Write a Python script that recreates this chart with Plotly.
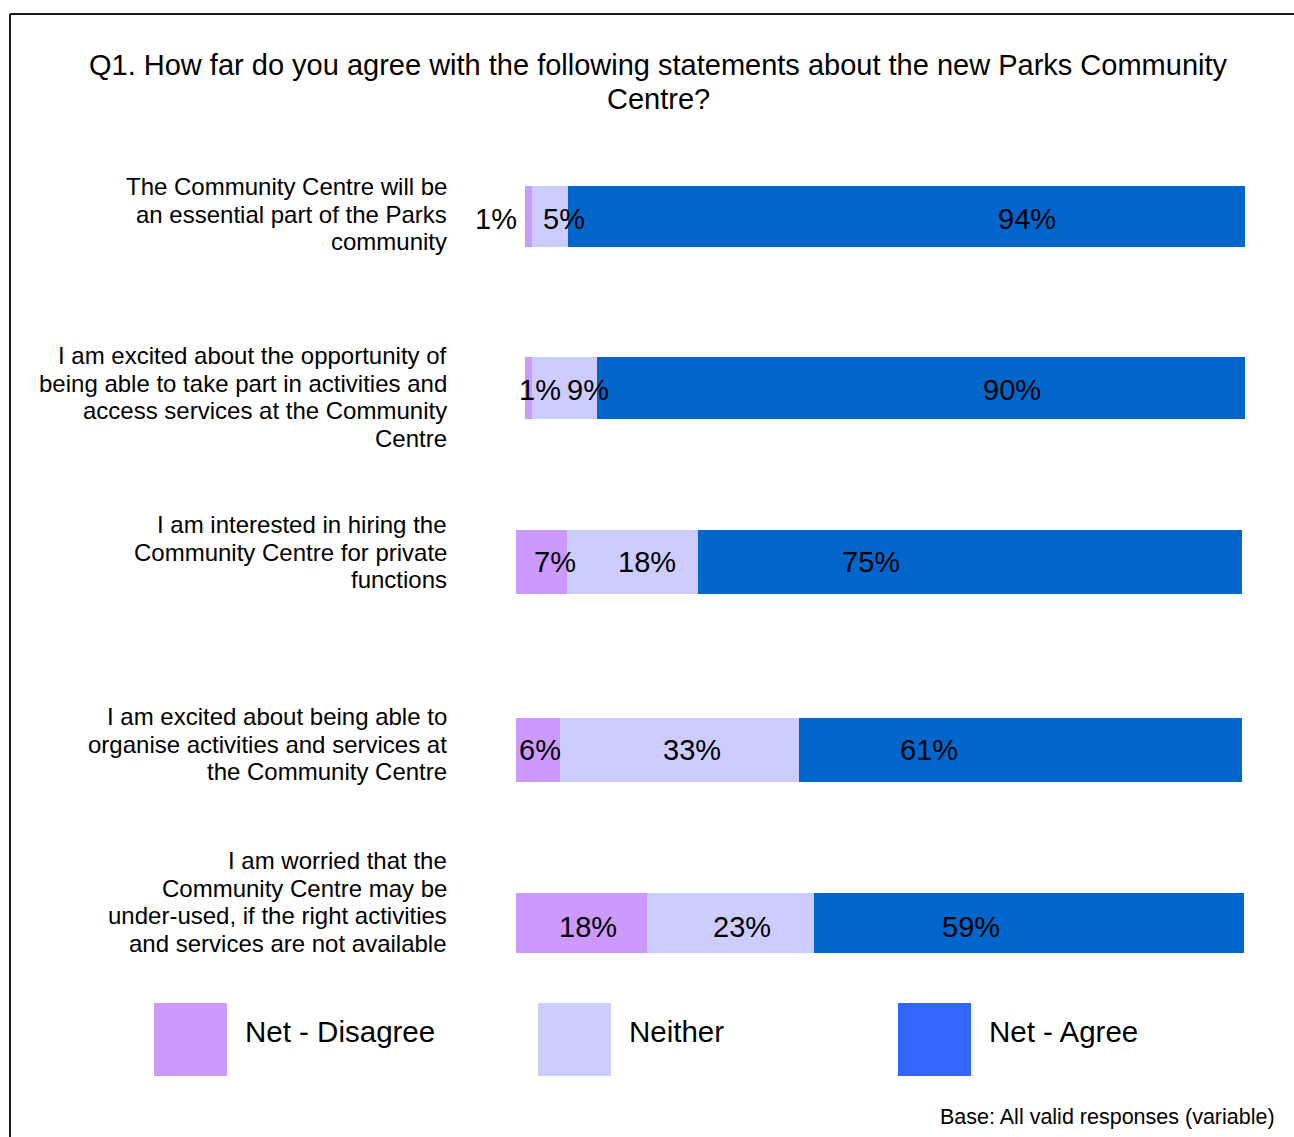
import plotly.graph_objects as go

# ---- data ----
statements = [
    ["The Community Centre will be", "an essential part of the Parks", "community"],
    ["I am excited about the opportunity of", "being able to take part in activities and",
     "access services at the Community", "Centre"],
    ["I am interested in hiring the", "Community Centre for private", "functions"],
    ["I am excited about being able to", "organise activities and services at",
     "the Community Centre"],
    ["I am worried that the", "Community Centre may be",
     "under-used, if the right activities", "and services are not available"],
]
series_names = ["Net - Disagree", "Neither", "Net - Agree"]
net_disagree = [1, 1, 7, 6, 18]
neither = [5, 9, 18, 33, 23]
net_agree = [94, 90, 75, 61, 59]

title_lines = ["Q1. How far do you agree with the following statements about the new Parks Community",
               "Centre?"]
base_note = "Base: All valid responses (variable)"

# ---- styling ----
W, H = 1294, 1137
FONT = "Liberation Sans, Arial, sans-serif"
bar_colors = ["#CC99FF", "#CCCCFF", "#0066CC"]
legend_colors = ["#CC99FF", "#CCCCFF", "#3366FF"]

# pixel box of each bar row: (left, right, top, bottom)
row_boxes = [
    (525, 1245, 186, 247),
    (525, 1245, 357, 419),
    (516, 1242, 530, 594),
    (516, 1242, 718, 782),
    (516, 1244, 893, 953),
]
# nudges for the value labels (px) per row / series
label_dx = [
    [-33, 14, 120],
    [11, 23, 91],
    [14, 15, -99],
    [2, 13, -92],
    [6, 11, -58],
]
label_dy = [3, 2, 0, 0, 4]
# offset of first statement line from bar centre (px, downward) and line pitch
first_line_dy = [-29.5, -32.5, -37.5, -33.5, -62.5]
line_pitch = 27.5
label_right_px = 449


def px_x(p):
    return p / W


def px_y(p):
    return 1 - p / H


series_values = [net_disagree, neither, net_agree]

fig = go.Figure()
annotations = []
layout_axes = {}

for r in range(5):
    n = r + 1
    xa = "x" if n == 1 else f"x{n}"
    ya = "y" if n == 1 else f"y{n}"
    left, right, top, bottom = row_boxes[r]
    layout_axes["xaxis" if n == 1 else f"xaxis{n}"] = dict(
        domain=[px_x(left), px_x(right)], range=[0, 100], anchor=ya,
        showgrid=False, zeroline=False, showticklabels=False, showline=False,
        fixedrange=True)
    layout_axes["yaxis" if n == 1 else f"yaxis{n}"] = dict(
        domain=[px_y(bottom), px_y(top)], range=[-0.5, 0.5], anchor=xa,
        showgrid=False, zeroline=False, showticklabels=False, showline=False,
        fixedrange=True)

    cum = 0
    for s in range(3):
        v = series_values[s][r]
        fig.add_trace(go.Bar(
            x=[v], y=[0], orientation="h", width=1,
            marker=dict(color=bar_colors[s], line=dict(width=0)),
            name=series_names[s], showlegend=False, hoverinfo="skip",
            xaxis=xa, yaxis=ya))
        annotations.append(dict(
            x=cum + v / 2, y=0, xref=xa, yref=ya, text=f"{v}%",
            showarrow=False, xanchor="center", yanchor="middle",
            xshift=label_dx[r][s], yshift=-label_dy[r],
            font=dict(family=FONT, size=29, color="#000000")))
        cum += v

    for k, line in enumerate(statements[r]):
        annotations.append(dict(
            x=px_x(label_right_px), y=0, xref="paper", yref=ya, text=line,
            showarrow=False, xanchor="right", yanchor="middle", align="right",
            yshift=-(first_line_dy[r] + line_pitch * k),
            font=dict(family=FONT, size=24, color="#000000")))

# title, one annotation per line
title_y = [65, 99]
for line, yy in zip(title_lines, title_y):
    annotations.append(dict(
        x=px_x(658), y=px_y(yy), xref="paper", yref="paper", text=line,
        showarrow=False, xanchor="center", yanchor="middle",
        font=dict(family=FONT, size=29, color="#000000")))

# legend (drawn manually)
shapes = []
legend_left = [154, 538, 898]
for i, name in enumerate(series_names):
    x0 = legend_left[i]
    shapes.append(dict(type="rect", xref="paper", yref="paper",
                       x0=px_x(x0), x1=px_x(x0 + 73), y0=px_y(1076), y1=px_y(1003),
                       fillcolor=legend_colors[i], line=dict(width=0)))
    annotations.append(dict(
        x=px_x(x0 + 89), y=px_y(1031), xref="paper", yref="paper", text=name,
        showarrow=False, xanchor="left", yanchor="middle",
        font=dict(family=FONT, size=29.5, color="#000000")))

# base note
annotations.append(dict(
    x=px_x(1277), y=px_y(1117), xref="paper", yref="paper", text=base_note,
    showarrow=False, xanchor="right", yanchor="middle",
    font=dict(family=FONT, size=21.5, color="#000000")))

# outer frame (left and top edges)
shapes.append(dict(type="line", xref="paper", yref="paper",
                   x0=px_x(10), x1=px_x(10), y0=px_y(14), y1=0,
                   line=dict(color="#1a1a1a", width=2)))
shapes.append(dict(type="line", xref="paper", yref="paper",
                   x0=px_x(10), x1=1, y0=px_y(14), y1=px_y(14),
                   line=dict(color="#1a1a1a", width=2)))

fig.update_layout(
    width=W, height=H, margin=dict(l=0, r=0, t=0, b=0),
    paper_bgcolor="white", plot_bgcolor="white",
    barmode="stack", bargap=0, showlegend=False,
    annotations=annotations, shapes=shapes,
    font=dict(family=FONT),
    **layout_axes)

fig.write_html("out.html", config={"displayModeBar": False})
